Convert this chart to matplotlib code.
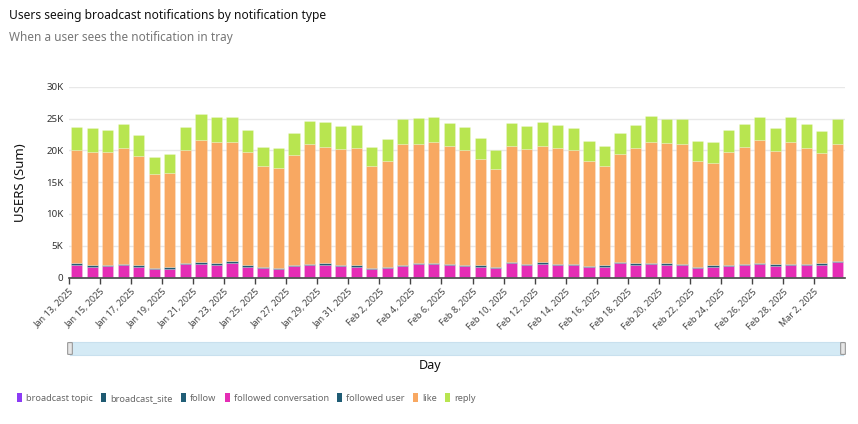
import matplotlib
matplotlib.use("Agg")
import matplotlib.pyplot as plt
from matplotlib.patches import FancyBboxPatch, Patch
import numpy as np
import pandas as pd

plt.rcParams['font.family'] = ['Noto Sans', 'DejaVu Sans']

# one bar per day
days = pd.date_range("2025-01-13", "2025-03-03", freq="D")
day_labels = [f"{d.strftime('%b')} {d.day}, {d.year}" for d in days]

# users per notification type
broadcast_topic = [5] * 50
broadcast_site = [10] * 50
follow = [20] * 50
followed_conversation = [
    1980, 1570, 1780, 1930, 1670, 1310, 1360, 2040, 2090, 2000,
    2200, 1620, 1410, 1360, 1780, 1890, 1930, 1720, 1670, 1360,
    1410, 1780, 2040, 2040, 1890, 1720, 1670, 1510, 2200, 1930,
    2090, 1890, 1890, 1620, 1620, 2200, 1930, 2040, 1980, 1930,
    1460, 1620, 1830, 1930, 2040, 1830, 1890, 1890, 1980, 2360]
followed_user = [
    285, 285, 225, 175, 335, 165, 275, 225, 335, 265,
    335, 285, 225, 115, 225, 215, 335, 245, 295, 175,
    175, 225, 225, 225, 175, 245, 235, 175, 225, 235,
    285, 275, 215, 175, 235, 225, 285, 285, 235, 175,
    175, 235, 175, 175, 285, 275, 215, 215, 235, 175]
like = [
    17700, 17810, 17660, 18260, 17060, 14740, 14830, 17700, 19240, 19000,
    18730, 17760, 15830, 15690, 17310, 18830, 18250, 18200, 18350, 15930,
    16680, 18930, 18800, 19100, 18600, 18000, 16710, 15380, 18190, 18050,
    18240, 18150, 17860, 16470, 15610, 16940, 18150, 19040, 18950, 18860,
    16630, 16160, 17660, 18410, 19240, 17760, 19210, 18210, 17350, 18530]
reply = [
    3700, 3800, 3600, 3800, 3300, 2750, 2950, 3650, 4050, 4000,
    4000, 3600, 3050, 3200, 3400, 3730, 4000, 3600, 3600, 3100,
    3500, 3930, 3950, 3900, 3700, 3700, 3350, 3000, 3750, 3650,
    3850, 3700, 3500, 3150, 3250, 3300, 3650, 4000, 3800, 3900,
    3200, 3350, 3500, 3650, 3600, 3650, 3900, 3750, 3450, 3850]

series = [
    ("broadcast topic", broadcast_topic, "#8C3BF5"),
    ("broadcast_site", broadcast_site, "#1F5A72"),
    ("follow", follow, "#215E77"),
    ("followed conversation", followed_conversation, "#E52DB5"),
    ("followed user", followed_user, "#1F5C75"),
    ("like", like, "#F8A862"),
    ("reply", reply, "#B8E550"),
]

fig = plt.figure(figsize=(8.58, 4.24), dpi=100)
ax = fig.add_axes([69 / 858, 1 - 277.5 / 424, 776 / 858, 190.5 / 424])

x = np.arange(len(days)) + 0.5
bottom = np.zeros(len(days))
handles = []
for name, vals, col in series:
    vals = np.array(vals, dtype=float)
    ax.bar(x, vals, width=0.72, bottom=bottom, color=col,
           edgecolor=(1, 1, 1, 0.35), linewidth=0.4)
    bottom += vals
    handles.append(Patch(facecolor=col, label=name))

ax.set_xlim(0, len(days))
ax.set_ylim(0, 30000)
ax.set_yticks(np.arange(0, 30001, 5000))
ax.set_yticklabels(["0", "5K", "10K", "15K", "20K", "25K", "30K"])
ax.yaxis.grid(True, color="#e8e8e8", linewidth=1)
ax.set_axisbelow(True)
ax.tick_params(axis="y", length=0, labelsize=7, colors="#333333", pad=4)

ax.set_xticks(np.arange(0, len(days), 2))
ax.set_xticklabels(day_labels[::2], rotation=45, ha="right",
                   rotation_mode="anchor", fontsize=6.5, color="#444444")
ax.tick_params(axis="x", length=4, color="#444444", width=1, pad=3)

for s in ["top", "right", "left"]:
    ax.spines[s].set_visible(False)
ax.spines["bottom"].set_color("#444444")
ax.spines["bottom"].set_linewidth(1.2)

ax.set_ylabel("USERS (Sum)", fontsize=9.5, color="#111111", labelpad=14)

# titles
fig.text(9 / 858, 1 - 16 / 424, "Users seeing broadcast notifications by notification type",
         fontsize=8.7, color="#111111", va="center", ha="left")
fig.text(9 / 858, 1 - 37 / 424, "When a user sees the notification in tray",
         fontsize=8.5, color="#777777", va="center", ha="left")

# scroll bar under the axis
sb = fig.add_axes([70 / 858, 1 - 355 / 424, 773 / 858, 13 / 424])
sb.set_facecolor("#D4EAF5")
sb.set_xticks([])
sb.set_yticks([])
for s in sb.spines.values():
    s.set_color("#C8E0EE")
for hx in [70, 843]:
    fig.patches.append(FancyBboxPatch(((hx - 1.5) / 858, 1 - 354 / 424), 3 / 858, 11 / 424,
                                      boxstyle="round,pad=0.001", transform=fig.transFigure,
                                      facecolor="#e6e6e6", edgecolor="#999999", linewidth=0.8))

fig.text(430 / 858, 1 - 365 / 424, "Day", fontsize=9, color="#111111", ha="center", va="center")

fig.legend(handles=handles, loc="center left", bbox_to_anchor=(17 / 858, 1 - 398 / 424),
           ncol=7, frameon=False, fontsize=6.6, labelcolor="#666666",
           handlelength=0.55, handleheight=1.1, handletextpad=0.45, columnspacing=0.9,
           borderaxespad=0, borderpad=0)

fig.savefig("out.png", dpi=100)
